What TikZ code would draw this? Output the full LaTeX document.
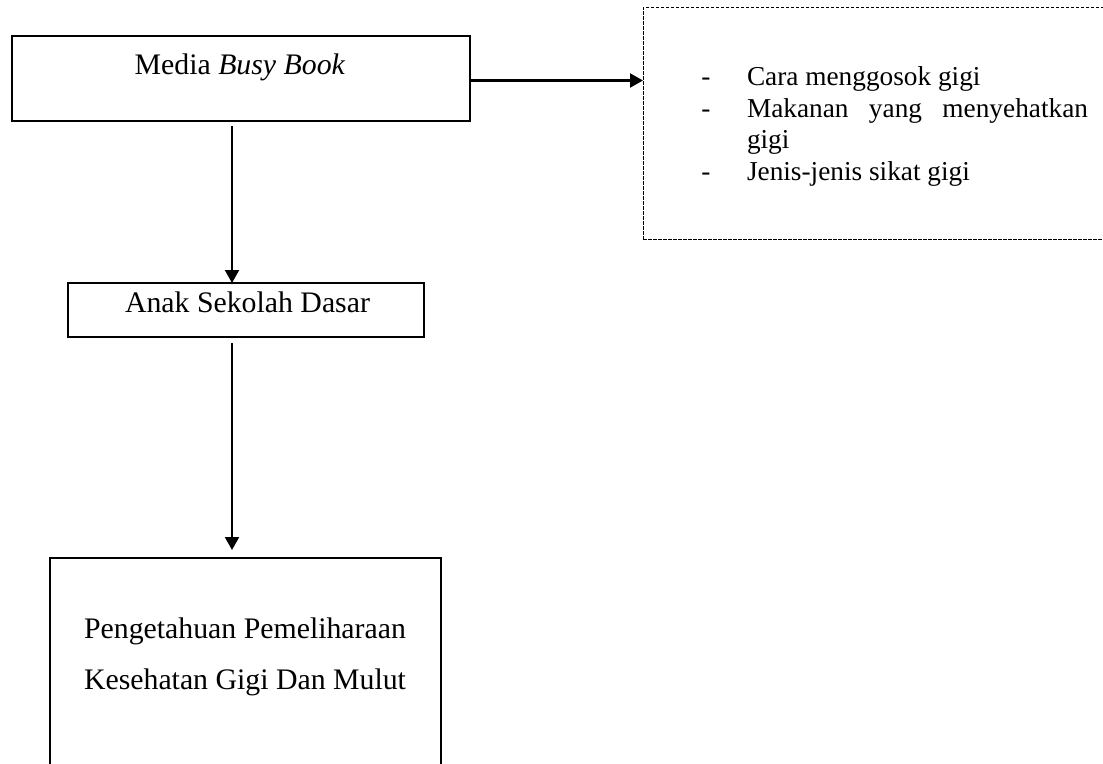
\documentclass[tikz,border=0pt]{standalone}
\usepackage{fontspec}
\setmainfont{Liberation Serif}
\usetikzlibrary{arrows.meta}
\begin{document}
\begin{tikzpicture}[x=1pt,y=1pt,
  box/.style={draw, inner sep=0pt, outer sep=0pt},
  txt/.style={inner sep=0pt, outer sep=0pt, anchor=base, font=\fontsize{29.8}{35}\selectfont},
  ltxt/.style={inner sep=0pt, outer sep=0pt, anchor=base west, font=\fontsize{27.3}{32}\selectfont},
  dtxt/.style={inner sep=0pt, outer sep=0pt, anchor=base, font=\fontsize{27.3}{32}\selectfont},
  arr/.style={line width=2.2pt, -{Triangle[length=13pt,width=14pt]}}]
\useasboundingbox (0,0) rectangle (1103,-763);
\clip (0,0) rectangle (1103,-763);
\fill[white] (0,0) rectangle (1103,-763);
% boxes
\node[box, line width=2.3pt, minimum width=458pt, minimum height=85pt] (media) at (241,-78.5) {};
\node[box, line width=0.9pt, dash pattern=on 3.5pt off 1.5pt, minimum width=472pt, minimum height=232pt] (list) at (879,-123) {};
\node[box, line width=1.8pt, minimum width=356pt, minimum height=54pt] (anak) at (246,-310) {};
\node[box, line width=2pt, minimum width=391pt, minimum height=217pt] (peng) at (245.5,-666.5) {};
% texts
\node[txt] (mediatxt) at (240,-74) {Media \textit{Busy Book}};
\node[txt] (anaktxt) at (247.5,-312) {Anak Sekolah Dasar};
\node[txt] (peng1) at (245,-638) {Pengetahuan Pemeliharaan};
\node[txt] (peng2) at (245,-689) {Kesehatan Gigi Dan Mulut};
\node[dtxt] (d1) at (706,-85) {-};
\node[dtxt] (d2) at (706,-117) {-};
\node[dtxt] (d3) at (706,-180) {-};
\node[ltxt] (l1) at (747,-85) {Cara menggosok gigi};
\node[ltxt] (l2) at (747,-117) {\makebox[341pt][s]{Makanan yang menyehatkan}};
\node[ltxt] (l3) at (747,-148) {gigi};
\node[ltxt] (l4) at (747,-180) {Jenis-jenis sikat gigi};
% connectors
\coordinate (ax) at (232,0);
\draw[arr] ([yshift=-2pt]media.east) -- ([yshift=-2pt]media.east -| list.west);
\draw[arr] ([yshift=-5pt]media.south -| ax) -- (anak.north -| ax);
\draw[arr] ([yshift=-6pt]anak.south -| ax) -- ([yshift=8pt]peng.north -| ax);
\end{tikzpicture}
\end{document}
